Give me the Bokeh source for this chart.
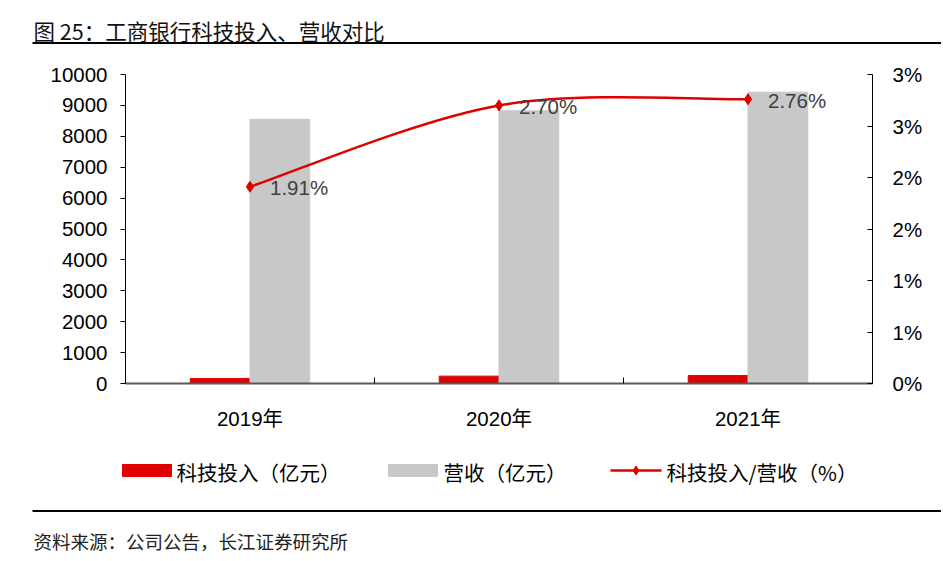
from bokeh.plotting import figure
from bokeh.models import Range1d, LinearAxis, FixedTicker, ColumnDataSource
from bokeh.layouts import column
from bokeh.transform import dodge
from bokeh.embed import file_html
from bokeh.resources import INLINE
from bokeh.core.properties import value

# ---------------- data ----------------
categories = ["2019年", "2020年", "2021年"]
tech_invest = [163.74, 238.19, 259.87]        # 科技投入（亿元）
revenue = [8551.64, 8826.65, 9427.62]          # 营收（亿元）
ratio = [1.91, 2.70, 2.76]                     # 科技投入/营收（%）
ratio_labels = ["1.91%", "2.70%", "2.76%"]
left_ticks = [0, 1000, 2000, 3000, 4000, 5000, 6000, 7000, 8000, 9000, 10000]
right_ticks = [0, 0.5, 1, 1.5, 2, 2.5, 3]
right_tick_labels = ["0%", "1%", "1%", "2%", "2%", "3%", "3%"]
legend_labels = ["科技投入（亿元）", "营收（亿元）", "科技投入/营收（%）"]

title_text = "图 25：工商银行科技投入、营收对比"
source_text = "资料来源：公司公告，长江证券研究所"

# ---------------- style / layout ----------------
W = 941
H_TOP, H_MID, H_BOT = 50, 390, 119
FL, FR, FT, FB = 125, W - 872, 74 - H_TOP, H_TOP + H_MID - 383

RED = "#E00000"
GRAY = "#C8C8C8"
CJK = "Noto Sans CJK SC"
LAT = "Liberation Sans"
TXT = "#000000"


def blank(h, y0):
    """A figure whose frame covers the whole canvas, in page pixel coordinates."""
    f = figure(width=W, height=h, output_backend="svg", toolbar_location=None,
               x_range=Range1d(0, W), y_range=Range1d(y0 + h, y0),
               x_axis_type=None, y_axis_type=None,
               min_border=0, min_border_left=0, min_border_right=0,
               min_border_top=0, min_border_bottom=0,
               background_fill_color="white", border_fill_color="white")
    f.outline_line_color = None
    f.xgrid.visible = False
    f.ygrid.visible = False
    f.frame_align = False
    return f


# ---------------- title strip ----------------
ft = blank(H_TOP, 0)
ft.text(x=[33], y=[30], text=[title_text], text_font=value(CJK),
        text_font_size="21.5px", text_color="#111111", text_baseline="middle",
        text_align="left")
ft.segment(x0=[32], y0=[42.5], x1=[W], y1=[42.5], line_color="#000000",
           line_width=2)

# ---------------- main chart ----------------
xc = [i + 0.5 for i in range(len(categories))]
src = ColumnDataSource(dict(xc=xc, tech=tech_invest, rev=revenue,
                            ratio=ratio, lab=ratio_labels))

p = figure(width=W, height=H_MID, output_backend="svg", toolbar_location=None,
           x_range=Range1d(0, len(categories)), y_range=Range1d(0, 10000),
           min_border_left=FL, min_border_right=FR, min_border_top=FT,
           min_border_bottom=FB, background_fill_color="white",
           border_fill_color="white")
p.outline_line_color = None
p.xgrid.visible = False
p.ygrid.visible = False
p.frame_align = False
p.extra_y_ranges = {"pct": Range1d(0, 3)}

p.vbar(x=dodge("xc", -0.12, range=p.x_range), top="tech", bottom=0,
       width=0.24, source=src, fill_color=RED, line_color=RED)
p.vbar(x=dodge("xc", 0.12, range=p.x_range), top="rev", bottom=0,
       width=0.24, source=src, fill_color=GRAY, line_color=GRAY)

# smoothed ratio line (Catmull-Rom style bezier through the data points)
n = len(xc)
x0s, y0s, x1s, y1s, cx0s, cy0s, cx1s, cy1s = [], [], [], [], [], [], [], []
for i in range(n - 1):
    pm = (xc[max(i - 1, 0)], ratio[max(i - 1, 0)])
    pa = (xc[i], ratio[i])
    pb = (xc[i + 1], ratio[i + 1])
    pn = (xc[min(i + 2, n - 1)], ratio[min(i + 2, n - 1)])
    x0s.append(pa[0]); y0s.append(pa[1]); x1s.append(pb[0]); y1s.append(pb[1])
    cx0s.append(pa[0] + (pb[0] - pm[0]) / 6); cy0s.append(pa[1] + (pb[1] - pm[1]) / 6)
    cx1s.append(pb[0] - (pn[0] - pa[0]) / 6); cy1s.append(pb[1] - (pn[1] - pa[1]) / 6)
p.bezier(x0=x0s, y0=y0s, x1=x1s, y1=y1s, cx0=cx0s, cy0=cy0s, cx1=cx1s, cy1=cy1s,
         y_range_name="pct", line_color=RED, line_width=2.5)
p.scatter(x="xc", y="ratio", source=src, marker="diamond", size=11,
          color=RED, y_range_name="pct")
p.text(x="xc", y="ratio", text="lab", source=src, y_range_name="pct",
       x_offset=20, y_offset=1, text_align="left", text_baseline="middle",
       text_font=value(LAT), text_font_size="20.5px", text_color="#404040")

ya = p.yaxis[0]
ya.ticker = FixedTicker(ticks=left_ticks)
ya.major_tick_in = 0
ya.major_tick_out = 5
ya.minor_tick_line_color = None
ya.axis_line_color = "#000000"
ya.major_tick_line_color = "#000000"
ya.major_label_standoff = 13
ya.major_label_text_font = LAT
ya.major_label_text_font_size = "20.5px"
ya.major_label_text_color = TXT

ra = LinearAxis(y_range_name="pct", ticker=FixedTicker(ticks=right_ticks),
                major_label_overrides={t: l for t, l in zip(right_ticks, right_tick_labels)})
ra.major_tick_in = 5
ra.major_tick_out = 0
ra.minor_tick_line_color = None
ra.axis_line_color = "#000000"
ra.major_tick_line_color = "#000000"
ra.major_label_standoff = 20
ra.major_label_text_font = LAT
ra.major_label_text_font_size = "20.5px"
ra.major_label_text_color = TXT
p.add_layout(ra, "right")

xa = p.xaxis[0]
xa.ticker = FixedTicker(ticks=xc, minor_ticks=list(range(len(categories) + 1)))
xa.major_label_overrides = {t: c for t, c in zip(xc, categories)}
xa.major_tick_in = 0
xa.major_tick_out = 0
xa.minor_tick_in = 6
xa.minor_tick_out = 0
xa.minor_tick_line_color = "#000000"
xa.axis_line_color = "#595959"
xa.axis_line_width = 2
xa.major_label_standoff = 23
xa.major_label_text_font = LAT + ", " + CJK
xa.major_label_text_font_size = "20.5px"
xa.major_label_text_color = TXT

# ---------------- legend + source strip ----------------
y0 = H_TOP + H_MID
fb = blank(H_BOT, y0)
ly = 470
# key swatches
fb.rect(x=[146.5], y=[ly], width=49, height=12, fill_color=RED, line_color=RED)
fb.rect(x=[412.5], y=[ly], width=49, height=12, fill_color=GRAY, line_color=GRAY)
fb.segment(x0=[610], y0=[ly], x1=[661], y1=[ly], line_color=RED, line_width=2.5)
fb.scatter(x=[635.5], y=[ly], marker="diamond", size=9, color=RED)
fb.text(x=[176, 443, 666], y=[ly + 1] * 3, text=legend_labels,
        text_font=value(CJK), text_font_size="20.5px", text_color=TXT,
        text_baseline="middle", text_align="left")
fb.segment(x0=[32], y0=[510.5], x1=[W], y1=[510.5], line_color="#000000",
           line_width=2)
fb.text(x=[33], y=[540], text=[source_text], text_font=value(CJK),
        text_font_size="18.5px", text_color="#222222", text_baseline="middle",
        text_align="left")

layout = column(ft, p, fb, spacing=0)
open("out.html", "w").write(file_html(layout, INLINE))
